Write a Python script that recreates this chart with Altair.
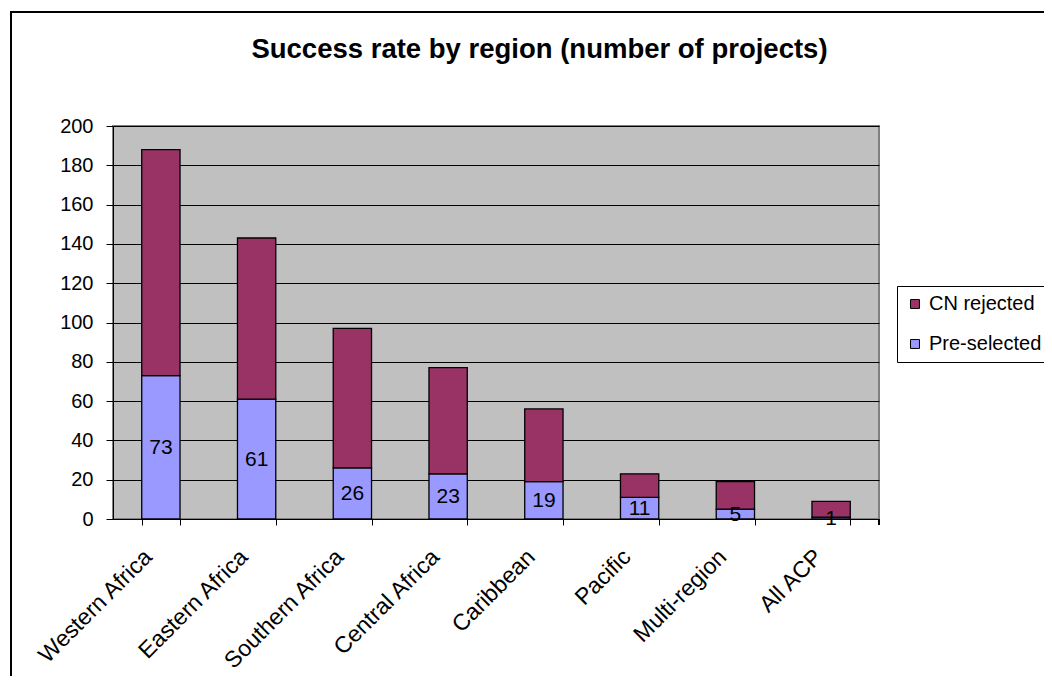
import altair as alt
import pandas as pd

regions = ["Western Africa", "Eastern Africa", "Southern Africa", "Central Africa",
           "Caribbean", "Pacific", "Multi-region", "All ACP"]
pre_selected = [73, 61, 26, 23, 19, 11, 5, 1]
cn_rejected = [115, 82, 71, 54, 37, 12, 14, 8]

series_names = ["CN rejected", "Pre-selected"]
series_colors = ["#993366", "#9999FF"]
title_text = "Success rate by region (number of projects)"
y_ticks = [0, 20, 40, 60, 80, 100, 120, 140, 160, 180, 200]

rows = []
for r, p, c in zip(regions, pre_selected, cn_rejected):
    rows.append({"region": r, "series": "Pre-selected", "value": p, "ord": 0})
    rows.append({"region": r, "series": "CN rejected", "value": c, "ord": 1})
df = pd.DataFrame(rows)
lab = pd.DataFrame({"region": regions, "value": pre_selected})
ttl = pd.DataFrame({"t": [title_text]})

W, H = 766, 393
FONT = "Liberation Sans"

xaxis = alt.Axis(title=None, labelAngle=-45, labelAlign="right",
                 labelBaseline="middle", labelFontSize=23,
                 labelColor="black", bandPosition=0, tickBand="extent",
                 tickColor="black", domainColor="black", tickSize=6,
                 labelPadding=28, labelOffset=-13, grid=False,
                 labelFont=FONT, labelOverlap=False)
yaxis = alt.Axis(title=None, values=y_ticks,
                 labelFontSize=20, labelColor="black", labelFont=FONT,
                 tickColor="black", domainColor="black", tickSize=7,
                 labelPadding=13, grid=True, gridColor="black",
                 gridOpacity=1, gridWidth=1, labelOverlap=False)
xscale = alt.Scale(paddingInner=0.6, paddingOuter=0.3)
yscale = alt.Scale(domain=[0, 200], nice=False)

bars = alt.Chart(df).mark_bar(stroke="black", strokeWidth=1.3).encode(
    x=alt.X("region:N", sort=regions, scale=xscale, axis=xaxis),
    y=alt.Y("value:Q", stack="zero", scale=yscale, axis=yaxis),
    color=alt.Color("series:N",
                    scale=alt.Scale(domain=series_names, range=series_colors),
                    legend=alt.Legend(title=None, orient="none", legendX=784,
                                      legendY=160, padding=8, strokeColor="black",
                                      fillColor="white", symbolType="square",
                                      symbolSize=80, symbolStrokeColor="black",
                                      symbolStrokeWidth=1, symbolOpacity=1,
                                      labelFontSize=20, labelFont=FONT,
                                      labelColor="black", rowPadding=20,
                                      labelOffset=4)),
    order=alt.Order("ord:Q"),
)

labels = alt.Chart(lab).transform_calculate(mid="datum.value / 2").mark_text(
    fontSize=21, font=FONT, color="black", baseline="middle", dy=1
).encode(
    x=alt.X("region:N", sort=regions, scale=xscale, axis=xaxis),
    y=alt.Y("mid:Q", scale=yscale, axis=yaxis),
    text=alt.Text("value:Q"),
)

frame = alt.Chart(lab).mark_rect(fill=None, stroke="black", strokeWidth=1.5,
                                clip=False).encode(
    x=alt.value(-102), x2=alt.value(960), y=alt.value(-114), y2=alt.value(600))

end_tick = alt.Chart(lab).mark_rule(color="black", clip=False).encode(
    x=alt.value(W), y=alt.value(H), y2=alt.value(H + 6))

title = alt.Chart(ttl).mark_text(font=FONT, fontSize=27.5, fontWeight="bold",
                                 color="black", align="center",
                                 baseline="alphabetic", clip=False).encode(
    x=alt.value(426.5), y=alt.value(-68), text="t:N")

chart = alt.layer(frame, bars, labels, end_tick, title).properties(
    width=W, height=H,
    padding={"left": 105, "top": 118, "right": 165, "bottom": 157},
    autosize=alt.AutoSizeParams(type="none"),
    background="white",
).configure_view(stroke="#808080", strokeWidth=2, fill="#C0C0C0")

chart.save("out.html", embed_options={"renderer": "svg", "actions": False})
